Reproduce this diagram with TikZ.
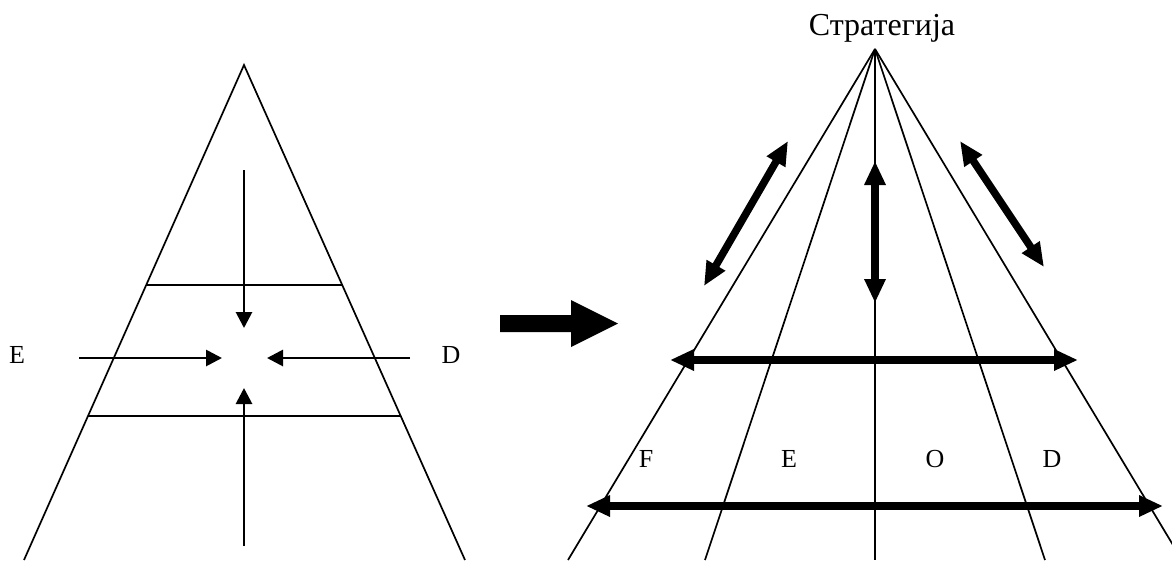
\documentclass[tikz,border=0pt]{standalone}
\usepackage{fontspec}
\setmainfont{Liberation Serif}
\usetikzlibrary{arrows.meta}

\begin{document}
\begin{tikzpicture}[x=1pt,y=-1pt,
  side/.style={line width=1.7pt},
  push/.style={line width=2.8pt,-{Triangle[length=16pt,width=16pt]}},
  both/.style={line width=7.5pt,{Triangle[length=24pt,width=20pt]}-{Triangle[length=24pt,width=20pt]}},
  tag/.style={font=\fontsize{26}{31}\selectfont,inner sep=0pt,anchor=base},
]
\useasboundingbox (0,0) rectangle (1172,560);
\clip (0,0) rectangle (1172,560);

% left pyramid
\coordinate (ltop) at (244,65);
\coordinate (lbl) at (24,560);
\coordinate (lbr) at (465,560);
\draw[side] (lbl) -- (ltop) -- (lbr);
\coordinate (u1) at (146,285);  \coordinate (u2) at (342,285);
\coordinate (w1) at (88,416);   \coordinate (w2) at (401,416);
\draw[side] (u1) -- (u2);
\draw[side] (w1) -- (w2);

\coordinate (pn) at (244,170);  \coordinate (pn') at (244,328);
\coordinate (ps) at (244,546);  \coordinate (ps') at (244,388);
\coordinate (pw) at (79,358);   \coordinate (pw') at (222,358);
\coordinate (pe) at (410,358);  \coordinate (pe') at (267,358);
\draw[push] (pn) -- (pn');
\draw[push] (ps) -- (ps');
\draw[push] (pw) -- (pw');
\draw[push] (pe) -- (pe');

\node[tag] (le) at (17,363) {E};
\node[tag] (ld) at (451,363) {D};

% transition arrow
\fill (500,315) -- (571,315) -- (571,300) -- (618,323.5) -- (571,347) -- (571,332) -- (500,332) -- cycle;

% right fan
\coordinate (rtop) at (875,49);
\foreach \x/\n in {568/1,705/2,875/3,1045/4,1182/5}
  \draw[side] (rtop) -- (\x,560) coordinate (r\n);

\node[tag,font=\fontsize{32}{38}\selectfont] (title) at (882,35) {Стратегија};

\coordinate (h1) at (586,506);  \coordinate (h2) at (1163,506);
\coordinate (k1) at (670,360);  \coordinate (k2) at (1078,360);
\coordinate (dl1) at (704,286); \coordinate (dl2) at (788,141);
\coordinate (dr1) at (960,141); \coordinate (dr2) at (1044,267);
\coordinate (v1) at (875,161);  \coordinate (v2) at (875,303);
\draw[both] (h1) -- (h2);
\draw[both] (k1) -- (k2);
\draw[both] (dl1) -- (dl2);
\draw[both] (dr1) -- (dr2);
\draw[both] (v1) -- (v2);

\node[tag] (sf) at (646,467) {F};
\node[tag] (se) at (789,467) {E};
\node[tag] (so) at (935,467) {O};
\node[tag] (sd) at (1052,467) {D};
\end{tikzpicture}
\end{document}
